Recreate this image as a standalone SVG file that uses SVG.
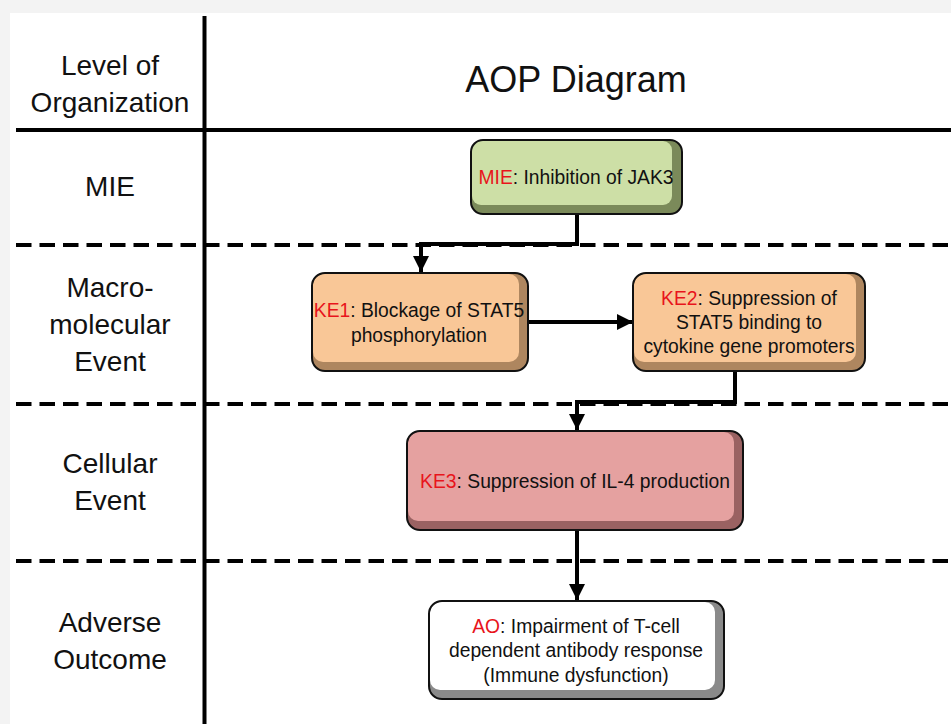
<svg xmlns="http://www.w3.org/2000/svg" width="951" height="724" viewBox="0 0 951 724">
<defs>
<style>
text{font-family:"Liberation Sans",Arial,sans-serif;fill:#111;}
.lvl{font-size:28px;text-anchor:middle;}
.ttl{font-size:36px;text-anchor:middle;}
.bx{font-size:19.3px;text-anchor:middle;}
.red{fill:#e8141b;}
.sep{stroke:#000;stroke-width:4;stroke-dasharray:15.5 8;fill:none;}
.solid{stroke:#000;stroke-width:4;fill:none;}
.con{stroke:#000;stroke-width:4;fill:none;}
.edge{fill:none;stroke:#111;stroke-width:2;}
</style>
<marker id="ah" viewBox="0 0 10 10" refX="10" refY="5" markerWidth="4" markerHeight="4" orient="auto" markerUnits="strokeWidth">
<path d="M0,0 L10,5 L0,10 z" fill="#000"/>
</marker>
</defs>
<rect x="0" y="0" width="951" height="724" fill="#f3f3f3"/>
<rect x="10" y="13" width="941" height="711" fill="#ffffff"/>

<g id="grid">
<line class="solid" x1="16" y1="130" x2="951" y2="130"/>
<line class="solid" x1="204.5" y1="16" x2="204.5" y2="724"/>
<line class="sep" x1="16" y1="245" x2="951" y2="245"/>
<line class="sep" x1="16" y1="404" x2="951" y2="404"/>
<line class="sep" x1="16" y1="561" x2="951" y2="561"/>
</g>

<g id="labels">
<text class="lvl" x="110" y="75">Level of</text>
<text class="lvl" x="110" y="112">Organization</text>
<text class="ttl" x="576" y="92">AOP Diagram</text>
<text class="lvl" x="110" y="196">MIE</text>
<text class="lvl" x="110" y="297">Macro-</text>
<text class="lvl" x="110" y="334">molecular</text>
<text class="lvl" x="110" y="371">Event</text>
<text class="lvl" x="110" y="473">Cellular</text>
<text class="lvl" x="110" y="510">Event</text>
<text class="lvl" x="110" y="632">Adverse</text>
<text class="lvl" x="110" y="669">Outcome</text>
</g>

<g id="connectors">
<polyline class="con" points="577,215 577,244 421,244 421,272" marker-end="url(#ah)"/>
<line class="con" x1="528" y1="322" x2="633" y2="322" marker-end="url(#ah)"/>
<polyline class="con" points="735,372 735,402 577,402 577,430" marker-end="url(#ah)"/>
<line class="con" x1="577" y1="531" x2="577" y2="600" marker-end="url(#ah)"/>
</g>

<g id="MIE">
<rect x="471" y="140" width="211" height="74" rx="12" fill="#7b8a5a"/>
<rect x="472" y="141" width="200" height="64" rx="9" fill="#cddfa6"/>
<rect x="471" y="140" width="211" height="74" rx="12" class="edge"/>
<text class="bx" x="576" y="184"><tspan class="red">MIE</tspan>: Inhibition of JAK3</text>
</g>

<g id="KE1">
<rect x="312" y="273" width="216" height="98" rx="13" fill="#ae865f"/>
<rect x="313" y="274" width="206" height="88" rx="10" fill="#f9c797"/>
<rect x="312" y="273" width="216" height="98" rx="13" class="edge"/>
<text class="bx" x="419" y="317"><tspan class="red">KE1</tspan>: Blockage of STAT5</text>
<text class="bx" x="419" y="342">phosphorylation</text>
</g>

<g id="KE2">
<rect x="633" y="273" width="232" height="98" rx="13" fill="#ae865f"/>
<rect x="634" y="274" width="222" height="88" rx="10" fill="#f9c797"/>
<rect x="633" y="273" width="232" height="98" rx="13" class="edge"/>
<text class="bx" x="749" y="305"><tspan class="red">KE2</tspan>: Suppression of</text>
<text class="bx" x="749" y="329">STAT5 binding to</text>
<text class="bx" x="749" y="353">cytokine gene promoters</text>
</g>

<g id="KE3">
<rect x="407" y="431" width="336" height="99" rx="13" fill="#9a6262"/>
<rect x="408" y="432" width="326" height="89" rx="10" fill="#e5a1a0"/>
<rect x="407" y="431" width="336" height="99" rx="13" class="edge"/>
<text class="bx" x="575" y="488"><tspan class="red">KE3</tspan>: Suppression of IL-4 production</text>
</g>

<g id="AO">
<rect x="429" y="601" width="295" height="98" rx="13" fill="#8a8a8a"/>
<rect x="430" y="602" width="285" height="88" rx="10" fill="#ffffff"/>
<rect x="429" y="601" width="295" height="98" rx="13" class="edge"/>
<text class="bx" x="576" y="633"><tspan class="red">AO</tspan>: Impairment of T-cell</text>
<text class="bx" x="576" y="657">dependent antibody response</text>
<text class="bx" x="576" y="682">(Immune dysfunction)</text>
</g>
</svg>
